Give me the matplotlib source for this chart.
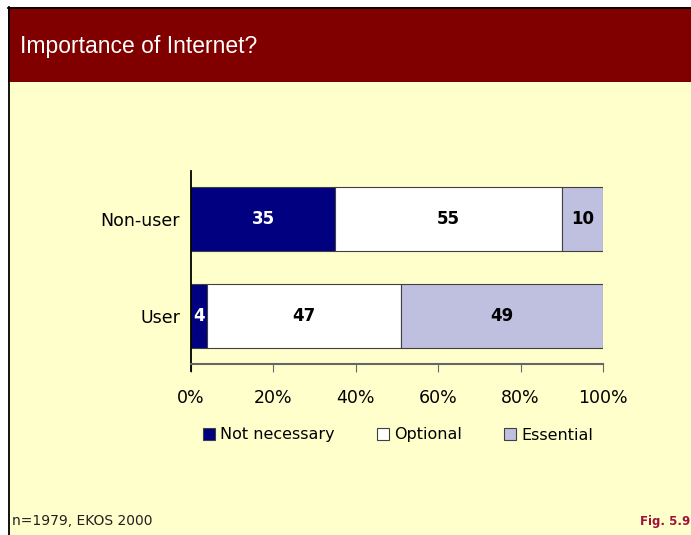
import matplotlib.pyplot as plt
from matplotlib.patches import Rectangle, Patch
from matplotlib.lines import Line2D

groups = ['User', 'Non-user']
series = ['Not necessary', 'Optional', 'Essential']
not_necessary = [4, 35]
optional = [47, 55]
essential = [49, 10]
x_ticks = [0, 20, 40, 60, 80, 100]
x_ticklabels = ['0%', '20%', '40%', '60%', '80%', '100%']

colors = ['#000080', '#FFFFFF', '#BFBFDF']
label_colors = ['white', 'black', 'black']
bg = '#FFFFCC'

W, H = 691, 535
fig = plt.figure(figsize=(W / 100, H / 100), dpi=100)
fig.patch.set_facecolor('white')

def px(x, y):
    # pixel coords (from top-left) to figure fraction
    return x / W, 1 - y / H

# slide background, header band and border
fig.patches.append(Rectangle(px(8, H), (W - 8) / W, (H - 7) / H,
                             transform=fig.transFigure, facecolor=bg,
                             edgecolor='none', zorder=-3))
fig.patches.append(Rectangle(px(8, 82), (W - 8) / W, 75 / H,
                             transform=fig.transFigure, facecolor='#800000',
                             edgecolor='none', zorder=-2))
fig.lines.append(Line2D([8.5 / W, 8.5 / W], [0, 1 - 7 / H],
                        transform=fig.transFigure, color='black', lw=1.3,
                        zorder=-1))
fig.lines.append(Line2D([8 / W, 1], [1 - 7.5 / H, 1 - 7.5 / H],
                        transform=fig.transFigure, color='black', lw=1.3,
                        zorder=-1))

fig.text(20 / W, 1 - 46 / H, 'Importance of Internet?', color='white',
         fontsize=16.5, family='Liberation Sans', va='center', ha='left')

ax = fig.add_axes([191 / W, 1 - 364 / H, 412 / W, 193 / H])
ax.set_facecolor(bg)

ypos = list(range(len(groups)))
left = [0] * len(groups)
for vals, c, lc, name in zip([not_necessary, optional, essential], colors,
                             label_colors, series):
    bars = ax.barh(ypos, vals, left=left, height=0.66, color=c,
                   edgecolor='#404040', linewidth=0.8, label=name)
    for b, v in zip(bars, vals):
        ax.text(b.get_x() + b.get_width() / 2, b.get_y() + b.get_height() / 2,
                str(v), ha='center', va='center', color=lc,
                fontsize=12, fontweight='bold', family='DejaVu Sans')
    left = [l + v for l, v in zip(left, vals)]

ax.set_xlim(0, 100)
ax.set_ylim(-0.5, 1.5)
ax.set_xticks(x_ticks)
ax.set_xticklabels(x_ticklabels, fontsize=12.5, family='DejaVu Sans')
ax.set_yticks(ypos)
ax.set_yticklabels(groups, fontsize=12.5, family='DejaVu Sans')
ax.tick_params(axis='y', length=0, pad=8)
ax.tick_params(axis='x', length=6, color='#666666', pad=12)
for s in ['top', 'right']:
    ax.spines[s].set_visible(False)
ax.spines['bottom'].set_color('#666666')
ax.spines['bottom'].set_linewidth(1.5)
ax.spines['left'].set_color('black')
ax.spines['left'].set_linewidth(1.3)
ax.spines['left'].set_bounds(-0.5 - 7 / 96, 1.5)

handles = [Patch(facecolor=c, edgecolor='#404040', linewidth=0.8) for c in colors]
fig.legend(handles, series, loc='center', bbox_to_anchor=(398 / W, 1 - 435 / H),
           ncol=3, frameon=False, handlelength=0.75,
           handleheight=0.75, handletextpad=0.35, columnspacing=2.6,
           prop={'family': 'DejaVu Sans', 'size': 11.5})

fig.text(12 / W, 1 - 521 / H, 'n=1979, EKOS 2000', fontsize=10,
         family='DejaVu Sans', color='#202020', va='center')
fig.text(690 / W, 1 - 521 / H, 'Fig. 5.9', fontsize=8.5, fontweight='bold',
         family='DejaVu Sans', color='#A0103A', va='center', ha='right')

fig.savefig('out.png', dpi=100, facecolor=fig.get_facecolor())
